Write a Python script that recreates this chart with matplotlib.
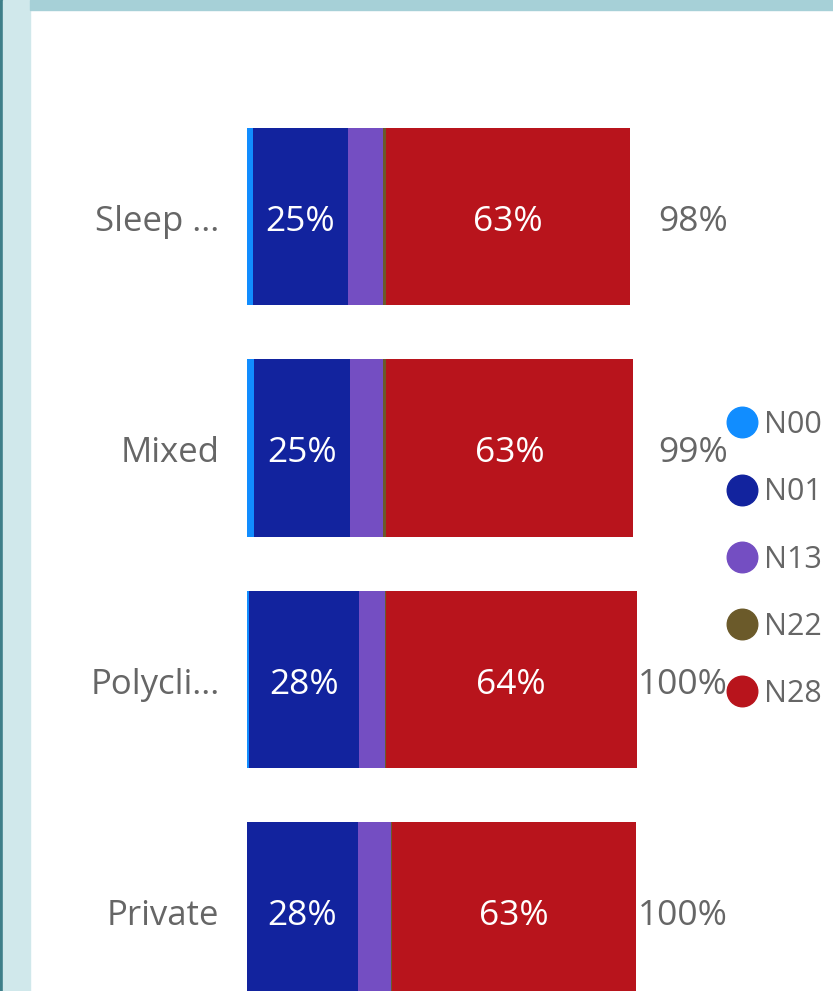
import matplotlib
matplotlib.use("Agg")
import matplotlib.pyplot as plt
from matplotlib.lines import Line2D
from matplotlib.patches import Rectangle
import numpy as np

plt.rcParams["font.family"] = ["Open Sans", "DejaVu Sans"]

# data (percent of row)
categories = ["Sleep ...", "Mixed", "Polycli...", "Private"]
series_names = ["N00", "N01", "N13", "N22", "N28"]
n00 = [1.5, 1.8, 0.7, 0.1]
n01 = [24.6, 24.6, 28.2, 28.4]
n13 = [8.8, 8.5, 6.5, 8.5]
n22 = [0.8, 0.9, 0.2, 0.2]
n28 = [62.6, 63.3, 64.4, 62.7]
labelled = ["N01", "N28"]

colors = ["#118DFF", "#12239E", "#744EC2", "#6B5A2A", "#B8141C"]
text_gray = "#666666"

W, H = 833, 991
fig = plt.figure(figsize=(W / 100, H / 100), dpi=100)

# report frame
fig.patches.append(Rectangle((0, 0), 3 / W, 1, transform=fig.transFigure,
                             color="#3E7F89", zorder=0))
fig.patches.append(Rectangle((3 / W, 0), 27 / W, 1, transform=fig.transFigure,
                             color="#D0E8EB", zorder=0))
fig.patches.append(Rectangle((30 / W, 1 - 10 / H), 1, 10 / H, transform=fig.transFigure,
                             color="#A6D0D7", zorder=0))

# axes: x 0..100 maps 247..637 px, one row per 231.5 px
left_px, right_px = 246.7, 636.7
row_px = 231.5
top_px = 216.5 - row_px / 2
ax_h = row_px * 4
ax = fig.add_axes([left_px / W, 1 - (top_px + ax_h) / H,
                   (right_px - left_px) / W, ax_h / H])
ax.set_xlim(0, 100)
ax.set_ylim(3.5, -0.5)
ax.axis("off")

y = np.arange(len(categories))
ty = y + 0.022  # text sits a little below bar centre
all_series = [n00, n01, n13, n22, n28]
left = np.zeros(len(categories))
for name, vals, c in zip(series_names, all_series, colors):
    vals = np.array(vals)
    ax.barh(y, vals, left=left, height=0.765, color=c, linewidth=0)
    if name in labelled:
        for yi, l, v in zip(ty, left, vals):
            ax.text(l + v / 2, yi, f"{v:.0f}%", ha="center", va="center",
                    color="white", fontsize=25.5)
    left = left + vals

totals = left
for yi, t, cat in zip(ty, totals, categories):
    ax.text(123.3, yi, f"{t:.0f}%", ha="right", va="center",
            color=text_gray, fontsize=25.5, clip_on=False)
    ax.text(-7.0, yi, cat, ha="right", va="center",
            color=text_gray, fontsize=25, clip_on=False)

handles = [Line2D([], [], marker="o", linestyle="none", markersize=22,
                  markerfacecolor=c, markeredgecolor=c) for c in colors]
fig.legend(handles, series_names, loc="upper left",
           bbox_to_anchor=(727.2 / W, 1 - 410 / H), frameon=False,
           fontsize=22, labelcolor=text_gray, handlelength=1.0,
           handletextpad=0.2, labelspacing=1.22, borderpad=0, borderaxespad=0)

fig.savefig("out.png", dpi=100)
